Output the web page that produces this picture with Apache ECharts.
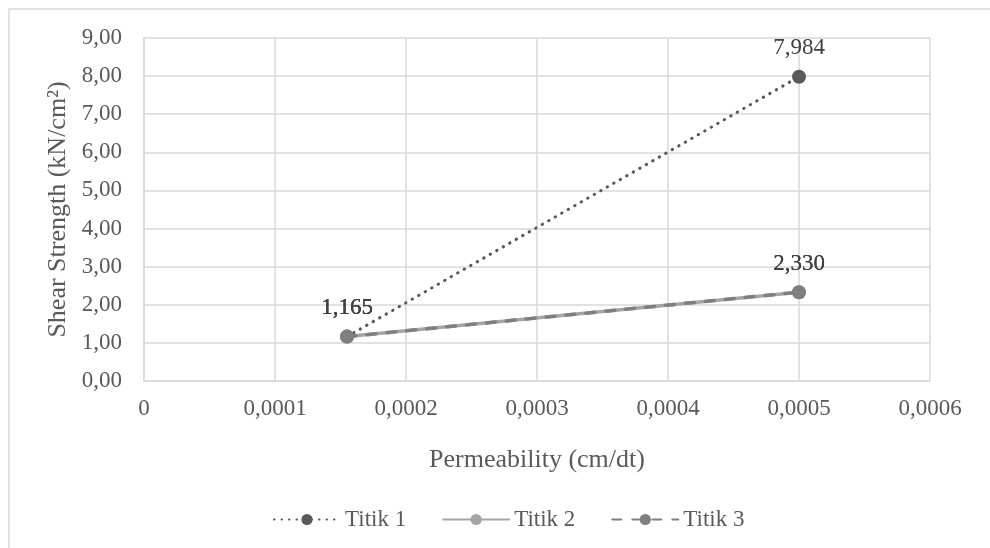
<!DOCTYPE html>
<html>
<head>
<meta charset="utf-8">
<script src="https://cdn.jsdelivr.net/npm/echarts@6/dist/echarts.min.js"></script>
<style>
  html, body { margin: 0; padding: 0; background: #fff; }
  #chart { width: 990px; height: 548px; }
</style>
</head>
<body>
<div id="chart"></div>
<script>
// Permeability (cm/dt) of each sample point
const permeability = [0.000155, 0.0005];
// Shear strength (kN/cm²) per series
const titik1 = [1.165, 7.984];
const titik2 = [1.165, 2.330];
const titik3 = [1.165, 2.330];
const seriesNames = ['Titik 1', 'Titik 2', 'Titik 3'];

const FONT = '"Liberation Serif", "Times New Roman", serif';
const comma = (v, d) => v.toFixed(d).replace('.', ',');

function pairs(ys) {
  return permeability.map((x, i) => [x, ys[i]]);
}

function makeSeries(name, ys, color, lineType, width, z) {
  return {
    name: name,
    type: 'line',
    data: pairs(ys),
    symbol: 'circle',
    symbolSize: 14,
    z: z,
    itemStyle: { color: color },
    lineStyle: { color: color, width: width, type: lineType, cap: 'round' },
    label: {
      show: true,
      position: 'top',
      distance: 10,
      fontFamily: FONT,
      fontSize: 23,
      color: '#404040',
      formatter: p => comma(p.value[1], 3)
    },
    emphasis: { disabled: true }
  };
}

const chart = echarts.init(document.getElementById('chart'), null, { renderer: 'canvas' });
chart.setOption({
  animation: false,
  backgroundColor: '#ffffff',
  graphic: [{
    type: 'rect',
    shape: { x: 9, y: 9, width: 1000, height: 560 },
    style: { fill: 'none', stroke: '#d9d9d9', lineWidth: 1.5 },
    z: -10
  }],
  grid: { left: 144, right: 60, top: 38, bottom: 167 },
  legend: {
    top: 503,
    left: 268,
    itemWidth: 66,
    itemHeight: 14,
    itemGap: 36,
    textStyle: { fontFamily: FONT, fontSize: 23, color: '#595959' },
    data: seriesNames
  },
  xAxis: {
    type: 'value',
    min: 0,
    max: 0.0006,
    interval: 0.0001,
    name: 'Permeability (cm/dt)',
    nameLocation: 'middle',
    nameGap: 66,
    nameTextStyle: { fontFamily: FONT, fontSize: 26, color: '#595959' },
    axisLine: { show: true, lineStyle: { color: '#d9d9d9', width: 1.5 } },
    axisTick: { show: false },
    splitLine: { show: true, lineStyle: { color: '#d9d9d9', width: 1.5 } },
    axisLabel: {
      fontFamily: FONT, fontSize: 23, color: '#595959', margin: 16,
      formatter: v => v === 0 ? '0' : comma(v, 4)
    }
  },
  yAxis: {
    type: 'value',
    min: 0,
    max: 9,
    interval: 1,
    name: 'Shear Strength (kN/cm²)',
    nameLocation: 'middle',
    nameGap: 73,
    nameTextStyle: { fontFamily: FONT, fontSize: 26, color: '#595959' },
    axisLine: { show: true, lineStyle: { color: '#d9d9d9', width: 1.5 } },
    axisTick: { show: false },
    splitLine: { show: true, lineStyle: { color: '#d9d9d9', width: 1.5 } },
    axisLabel: {
      fontFamily: FONT, fontSize: 23, color: '#595959', margin: 22,
      formatter: v => comma(v, 2)
    }
  },
  series: [
    makeSeries(seriesNames[0], titik1, '#595959', [0.5, 7], 3, 2),
    makeSeries(seriesNames[1], titik2, '#a5a5a5', 'solid', 3.5, 3),
    makeSeries(seriesNames[2], titik3, '#7f7f7f', [9, 11], 3.5, 4)
  ]
});
</script>
</body>
</html>
